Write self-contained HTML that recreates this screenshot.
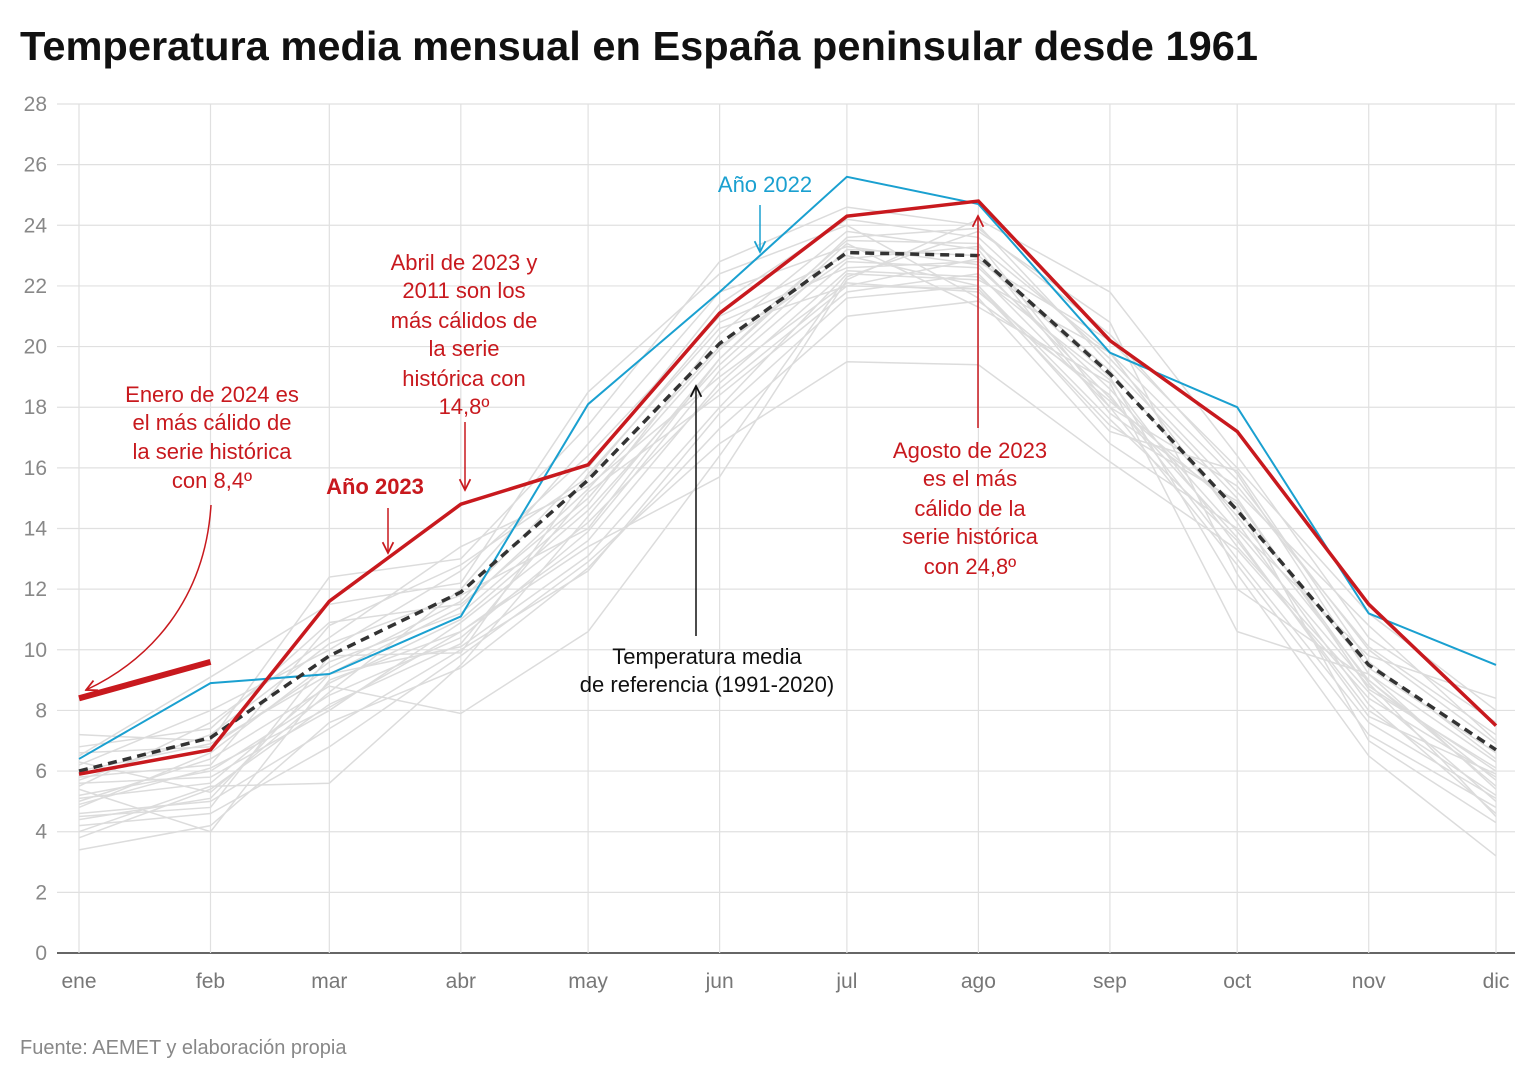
<!DOCTYPE html>
<html><head><meta charset="utf-8">
<style>
body{margin:0;background:#fff;font-family:"Liberation Sans",Roboto,sans-serif;}
svg text{font-family:"Liberation Sans",sans-serif;}
</style></head>
<body>
<svg id="chart" width="1540" height="1080" xmlns="http://www.w3.org/2000/svg">
<text x="20" y="60" font-size="41" font-weight="bold" fill="#111" textLength="1238" lengthAdjust="spacingAndGlyphs">Temperatura media mensual en España peninsular desde 1961</text>
<g id="grid"></g>
<g id="gray"></g>
<g id="main"></g>
<text x="20" y="1054" font-size="20" fill="#888">Fuente: AEMET y elaboración propia</text>
</svg>
<script>
const months=["ene","feb","mar","abr","may","jun","jul","ago","sep","oct","nov","dic"];
const monthDays=[0,31,59,90,120,151,181,212,243,273,304,334];
const yTicks=[0,2,4,6,8,10,12,14,16,18,20,22,24,26,28];
const year2023=[5.9,6.7,11.6,14.8,16.1,21.1,24.3,24.8,20.2,17.2,11.5,7.5];
const year2024=[8.4,9.6];
const year2022=[6.4,8.9,9.2,11.1,18.1,21.8,25.6,24.7,19.8,18.0,11.2,9.5];
const reference=[6.0,7.1,9.8,11.9,15.6,20.1,23.1,23.0,19.1,14.6,9.5,6.7];
const grayYears=[
[5.2,6.0,8.5,10.4,13.9,19.2,22.8,22.6,18.6,13.9,8.8,6.0],
[4.4,5.1,9.2,10.1,13.1,18.0,22.4,22.2,19.8,14.2,8.2,4.6],
[6.8,7.4,10.9,11.5,15.0,19.9,23.5,23.4,18.0,15.4,10.1,7.2],
[3.4,4.2,7.6,9.4,12.7,17.3,21.0,21.5,18.4,13.0,7.6,5.1],
[5.6,5.8,8.0,10.9,14.2,18.6,22.0,22.9,19.0,12.0,9.0,5.5],
[4.8,6.6,9.6,11.2,14.8,20.4,23.8,23.2,17.8,14.8,7.0,4.3],
[6.2,8.0,10.0,12.6,16.4,21.0,23.0,22.0,17.2,15.9,9.6,6.4],
[4.2,4.6,6.8,9.8,12.9,16.8,19.5,19.4,16.2,13.3,8.4,5.8],
[5.0,6.4,8.8,7.9,10.6,16.4,22.3,23.8,20.8,12.5,6.5,3.2],
[7.2,7.0,12.4,13.0,17.4,22.8,24.6,24.0,19.4,15.0,8.7,6.1],
[5.4,4.0,9.0,10.6,13.4,15.7,22.2,24.2,21.8,16.4,10.4,7.6],
[4.0,5.5,5.6,9.5,14.4,19.6,23.4,21.3,18.8,10.6,9.2,5.4],
[6.5,9.1,11.5,12.2,18.5,22.4,24.0,21.6,16.8,14.0,9.8,8.4],
[5.8,6.2,10.8,12.8,15.7,20.8,22.6,22.8,20.2,16.0,11.2,8.0],
[3.8,5.4,8.2,10.2,15.2,18.4,21.8,22.4,18.0,12.8,7.2,4.8],
[6.6,6.8,9.4,11.6,16.0,21.4,24.2,23.6,19.6,15.2,10.8,7.0],
[5.5,7.6,10.4,13.4,15.4,19.0,22.1,21.8,18.2,14.6,9.4,6.6],
[4.6,5.0,7.4,10.0,12.6,17.8,21.6,22.0,17.6,13.6,8.0,5.2],
[5.1,5.6,8.9,11.0,14.6,19.4,23.2,23.0,19.2,14.4,9.0,5.7],
[6.0,6.9,9.2,11.4,15.3,20.0,22.9,23.3,19.8,15.6,10.0,6.9],
[4.9,6.1,8.1,10.6,13.6,18.8,22.5,22.3,18.9,13.4,8.6,5.0],
[5.7,7.2,10.2,11.8,14.0,19.6,23.6,23.9,20.4,15.8,9.2,6.3],
[4.5,4.8,9.8,9.9,15.8,20.6,22.0,21.9,17.4,14.9,8.9,4.5],
[6.3,5.3,8.6,12.0,16.8,21.8,23.3,22.7,18.3,13.7,7.8,5.9]
];
const X0=79,X1=1496,Y0=953,PXU=(953-104)/28;
const xs=d=>X0+(X1-X0)*d/334;
const xm=i=>xs(monthDays[i]);
const y=v=>Y0-v*PXU;
const NS="http://www.w3.org/2000/svg";
function mk(tag,parent,attrs){const e=document.createElementNS(NS,tag);for(const k in attrs)e.setAttribute(k,attrs[k]);parent.appendChild(e);return e;}
const grid=document.getElementById('grid');
yTicks.forEach(t=>{
  const l=mk('line',grid,{x1:57,x2:1515,y1:y(t),y2:y(t),stroke:t===0?'#333':'#e0e0e0','stroke-width':t===0?1.5:1.2});
  
  
  const tx=mk('text',grid,{x:47,y:y(t)+7,'text-anchor':'end','font-size':21,fill:'#888'});
  tx.textContent=t;
  
  
});
months.forEach((m,i)=>{
  const l=mk('line',grid,{x1:xm(i),x2:xm(i),y1:104,y2:953,stroke:'#e0e0e0','stroke-width':1.2});
  
  
  const tx=mk('text',grid,{x:xm(i),y:988,'text-anchor':'middle','font-size':21,fill:'#777'});
  tx.textContent=m;
  
  
});
function pts(arr){return arr.map((v,i)=>xm(i)+','+y(v)).join(' ');}
const gray=document.getElementById('gray');
grayYears.forEach(a=>{
  const p=mk('polyline',gray,{points:pts(a),fill:'none',stroke:'#dcdcdc','stroke-width':1.5});
  
  
});
const main=document.getElementById('main');
let p=mk('polyline',main,{points:pts(year2022),fill:'none',stroke:'#1aa0d0','stroke-width':2});


p=mk('polyline',main,{points:pts(reference),fill:'none',stroke:'#333','stroke-width':3.5,'stroke-dasharray':'9 6'});


p=mk('polyline',main,{points:pts(year2023),fill:'none',stroke:'#c8191e','stroke-width':3.5});


p=mk('polyline',main,{points:pts(year2024),fill:'none',stroke:'#c8191e','stroke-width':6});


</script>
<svg style="position:absolute;left:0;top:0" width="1540" height="1080">
<defs>
<marker id="ar" viewBox="0 0 10 10" refX="9" refY="5" markerWidth="9" markerHeight="9" orient="auto"><path d="M1,1 L9,5 L1,9" fill="none" stroke="#c8191e" stroke-width="1.3"/></marker>
<marker id="ab" viewBox="0 0 10 10" refX="9" refY="5" markerWidth="9" markerHeight="9" orient="auto"><path d="M1,1 L9,5 L1,9" fill="none" stroke="#1aa0d0" stroke-width="1.3"/></marker>
<marker id="ak" viewBox="0 0 10 10" refX="9" refY="5" markerWidth="9" markerHeight="9" orient="auto"><path d="M1,1 L9,5 L1,9" fill="none" stroke="#111" stroke-width="1.3"/></marker>
</defs>
<g font-size="22" fill="#c8191e" text-anchor="middle">
<text><tspan x="212" y="402">Enero de 2024 es</tspan><tspan x="212" y="430">el más cálido de</tspan><tspan x="212" y="459">la serie histórica</tspan><tspan x="212" y="488">con 8,4º</tspan></text>
<text x="375" y="494" font-weight="bold">Año 2023</text>
<text><tspan x="464" y="270">Abril de 2023 y</tspan><tspan x="464" y="298">2011 son los</tspan><tspan x="464" y="328">más cálidos de</tspan><tspan x="464" y="356">la serie</tspan><tspan x="464" y="386">histórica con</tspan><tspan x="464" y="414">14,8º</tspan></text>
<text><tspan x="970" y="458">Agosto de 2023</tspan><tspan x="970" y="486">es el más</tspan><tspan x="970" y="516">cálido de la</tspan><tspan x="970" y="544">serie histórica</tspan><tspan x="970" y="574">con 24,8º</tspan></text>
<text x="765" y="192" fill="#1aa0d0">Año 2022</text>
<text fill="#111"><tspan x="707" y="664">Temperatura media</tspan><tspan x="707" y="692">de referencia (1991-2020)</tspan></text>
</g>
<path d="M211,505 C205,600 150,660 86,690" fill="none" stroke="#c8191e" stroke-width="1.5" marker-end="url(#ar)"/>
<line x1="388" y1="508" x2="388" y2="553" stroke="#c8191e" stroke-width="1.5" marker-end="url(#ar)"/>
<line x1="465" y1="422" x2="465" y2="490" stroke="#c8191e" stroke-width="1.5" marker-end="url(#ar)"/>
<line x1="760" y1="205" x2="760" y2="252" stroke="#1aa0d0" stroke-width="1.5" marker-end="url(#ab)"/>
<line x1="696" y1="636" x2="696" y2="386" stroke="#111" stroke-width="1.5" marker-end="url(#ak)"/>
<line x1="978" y1="428" x2="978" y2="216" stroke="#c8191e" stroke-width="1.5" marker-end="url(#ar)"/>
</svg>
</body></html>
